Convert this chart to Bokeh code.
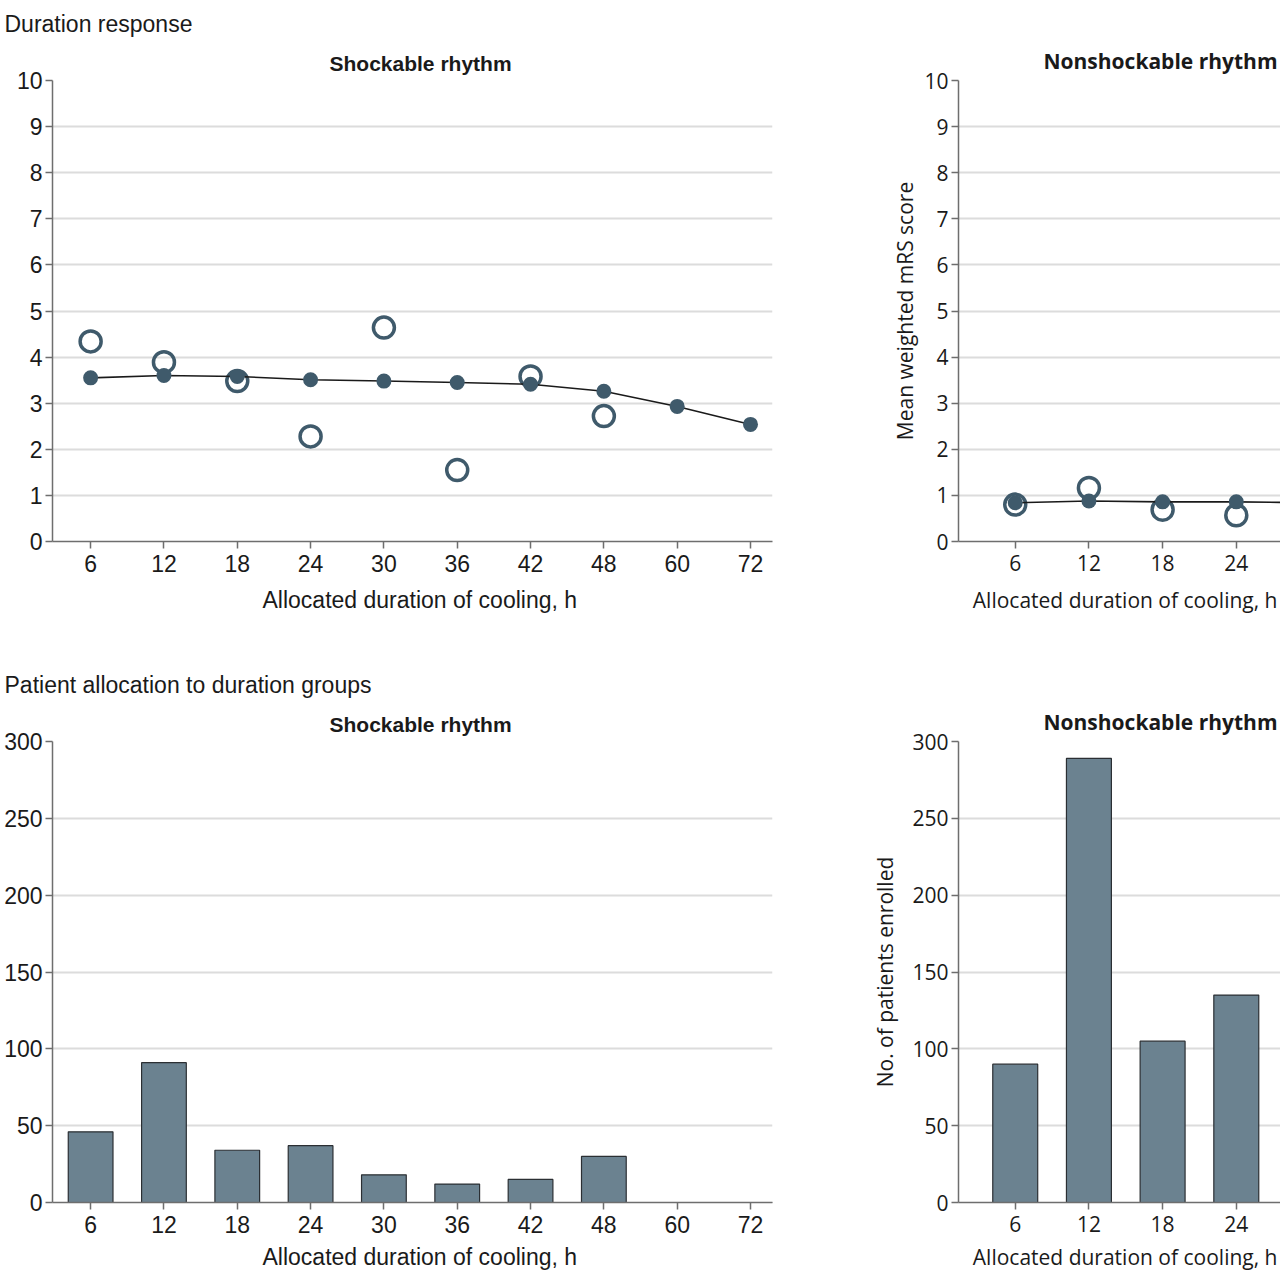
from bokeh.plotting import figure
from bokeh.models import Range1d, FixedTicker, Title
from bokeh.layouts import column, row
from bokeh.embed import file_html
from bokeh.resources import INLINE

# ---------------- data ----------------
durations = ["6", "12", "18", "24", "30", "36", "42", "48", "60", "72"]
# Duration response, shockable rhythm (mean weighted mRS score)
shock_model = [3.55, 3.60, 3.58, 3.51, 3.48, 3.45, 3.41, 3.26, 2.93, 2.54]
shock_observed = [4.34, 3.89, 3.48, 2.28, 4.64, 1.55, 3.58, 2.72]          # 6..48 h
# Duration response, nonshockable rhythm (visible part)
nonshock_model = [0.84, 0.88, 0.86, 0.86, 0.84]                            # 6..30 h
nonshock_observed = [0.80, 1.16, 0.69, 0.57]                               # 6..24 h
# Patient allocation to duration groups
shock_counts = [46, 91, 34, 37, 18, 12, 15, 30, 0, 0]
nonshock_counts = [90, 289, 105, 135]                                       # 6..24 h
mrs_ticks = [0, 1, 2, 3, 4, 5, 6, 7, 8, 9, 10]
count_ticks = [0, 50, 100, 150, 200, 250, 300]

# ---------------- styles ----------------
COND = "Liberation Sans"
WIDE = "Open Sans"
MARK = "#3f5a6b"
BAR = "#6b8290"
GRID = "#dcdcdc"
AXIS = "#6e6e6e"
TXT = "#1a1a1a"

LEFT_W, RIGHT_W = 798, 482
TOP_H, BOT_H = 652, 628
LB = 52                      # left border of the left panels
L_RANGE = (-0.52, 9.30)
R_RANGE = (-0.77, 3.60)


def base_fig(width, height, xr, y_end, yticks, font, fsize, bl, br, bt, bb):
    p = figure(width=width, height=height, title=None,
               x_range=Range1d(*xr), y_range=Range1d(0, y_end),
               output_backend="svg", toolbar_location=None,
               min_border_left=bl, min_border_right=br,
               min_border_top=bt, min_border_bottom=bb)
    p.outline_line_color = None
    p.background_fill_color = "white"
    p.border_fill_color = "white"
    p.xgrid.visible = False
    p.ygrid.grid_line_color = GRID
    p.ygrid.grid_line_width = 2
    p.xaxis.ticker = FixedTicker(ticks=list(range(len(durations))))
    p.xaxis.major_label_overrides = {i: d for i, d in enumerate(durations)}
    p.yaxis.ticker = FixedTicker(ticks=yticks)
    for ax in (p.xaxis, p.yaxis):
        ax.axis_line_color = AXIS
        ax.axis_line_width = 1.5
        ax.major_tick_line_color = AXIS
        ax.major_tick_line_width = 1.5
        ax.major_tick_out = 7
        ax.major_tick_in = 0
        ax.minor_tick_line_color = None
        ax.major_label_text_font = font
        ax.major_label_text_font_size = f"{fsize}px"
        ax.major_label_text_color = TXT
        ax.axis_label_text_font = font
        ax.axis_label_text_font_size = f"{fsize}px"
        ax.axis_label_text_font_style = "normal"
        ax.axis_label_text_color = TXT
    p.xaxis.major_label_standoff = 6
    p.yaxis.major_label_standoff = 3
    return p


def add_title(p, text, side, align, offset, font, size, style="normal", standoff=4):
    t = Title(text=text, align=align, offset=offset, text_font=font,
              text_font_size=f"{size}px", text_font_style=style,
              text_color=TXT, standoff=standoff)
    p.add_layout(t, side)


xi = list(range(len(durations)))

# ---------- A: duration response ----------
p1 = base_fig(LEFT_W, TOP_H, L_RANGE, 10, mrs_ticks, COND, 23, LB, 26, 80, 111)
p1.scatter(xi[:len(shock_observed)], shock_observed, size=21, fill_color=None,
           line_color=MARK, line_width=3.5)
p1.line(xi, shock_model, line_color=TXT, line_width=1.6)
p1.scatter(xi, shock_model, size=15, fill_color=MARK, line_color=None)
add_title(p1, "Shockable rhythm", "above", "left", 329 - LB, COND, 21, "bold", 12)
add_title(p1, "Duration response", "above", "left", 4 - LB, COND, 23, "normal", 14)
add_title(p1, "Allocated duration of cooling, h", "below", "left", 262 - LB, COND, 23,
          "normal", 20)

p2 = base_fig(RIGHT_W, TOP_H, R_RANGE, 10, mrs_ticks, WIDE, 21, 160, 0, 80, 111)
p2.scatter(xi[:len(nonshock_observed)], nonshock_observed, size=21, fill_color=None,
           line_color=MARK, line_width=3.5)
p2.line(xi[:len(nonshock_model)], nonshock_model, line_color=TXT, line_width=1.6)
p2.scatter(xi[:len(nonshock_model)], nonshock_model, size=15, fill_color=MARK, line_color=None)
p2.yaxis.axis_label = "Mean weighted mRS score"
p2.yaxis.axis_label_standoff = 2
add_title(p2, "Nonshockable rhythm", "above", "right", 3, WIDE, 21, "bold", 12)
add_title(p2, "Allocated duration of cooling, h", "below", "right", 3, WIDE, 21,
          "normal", 20)

# ---------- B: patient allocation ----------
p3 = base_fig(LEFT_W, BOT_H, L_RANGE, 300, count_ticks, COND, 23, LB, 26, 89, 78)
p3.vbar(x=xi, top=shock_counts, width=0.61, fill_color=BAR,
        line_color="#2b2f33", line_width=1.2)
add_title(p3, "Shockable rhythm", "above", "left", 329 - LB, COND, 21, "bold", 12)
add_title(p3, "Patient allocation to duration groups", "above", "left", 4 - LB, COND, 23,
          "normal", 14)
add_title(p3, "Allocated duration of cooling, h", "below", "left", 262 - LB, COND, 23,
          "normal", 12)

p4 = base_fig(RIGHT_W, BOT_H, R_RANGE, 300, count_ticks, WIDE, 21, 160, 0, 89, 78)
p4.vbar(x=xi[:len(nonshock_counts)], top=nonshock_counts, width=0.61, fill_color=BAR,
        line_color="#2b2f33", line_width=1.2)
p4.yaxis.axis_label = "No. of patients enrolled"
p4.yaxis.axis_label_standoff = 10
add_title(p4, "Nonshockable rhythm", "above", "right", 3, WIDE, 21, "bold", 12)
add_title(p4, "Allocated duration of cooling, h", "below", "right", 3, WIDE, 21,
          "normal", 12)

layout = column(row(p1, p2), row(p3, p4))
open("out.html", "w").write(file_html(layout, INLINE))
